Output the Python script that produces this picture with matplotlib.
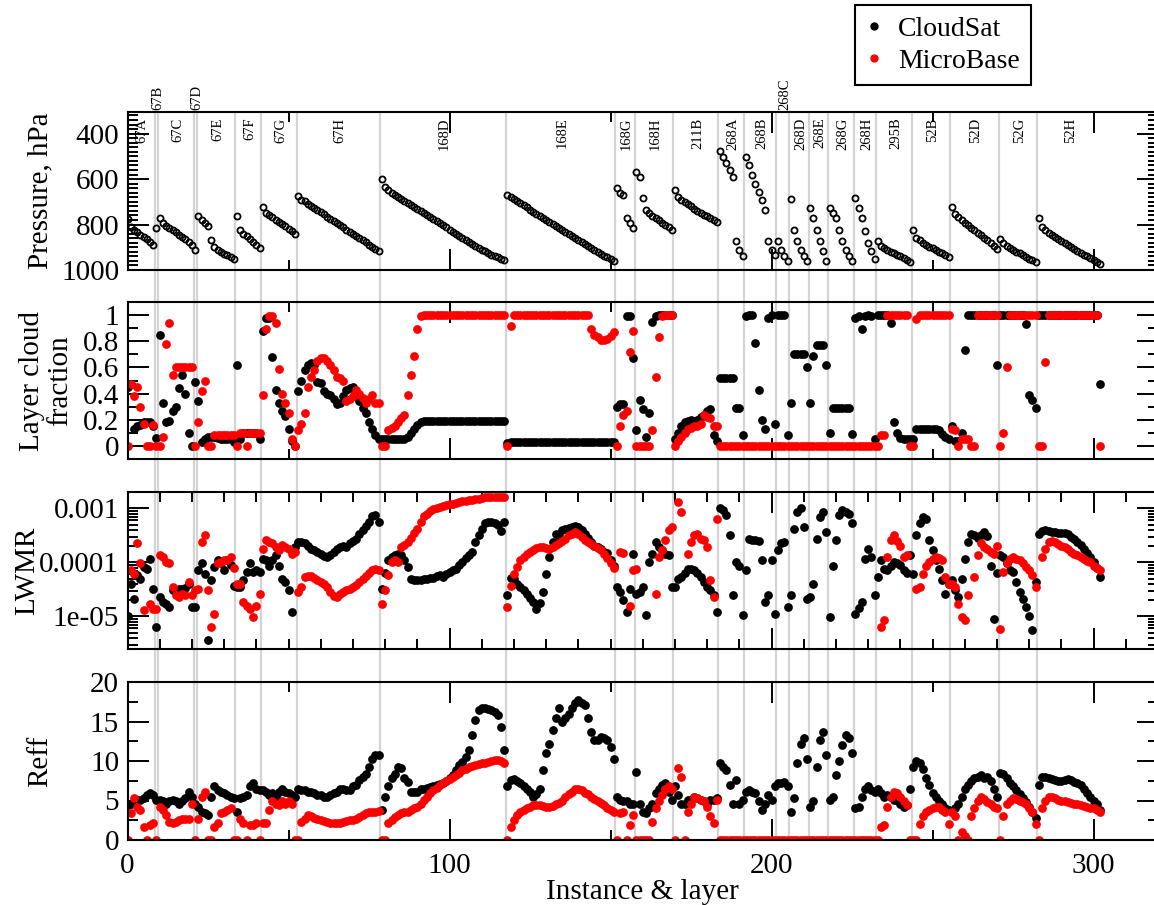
import numpy as np
import matplotlib
matplotlib.use("Agg")
import matplotlib.pyplot as plt
import matplotlib.transforms as mtransforms
from matplotlib.lines import Line2D
from matplotlib.ticker import MultipleLocator, LogLocator, FuncFormatter, NullFormatter

nan = np.nan

# instances (case + layer group) and number of layers in each
seg_names = ["67A", "67B", "67C", "67D", "67E", "67F", "67G", "67H", "168D", "168E",
             "168G", "168H", "211B", "268A", "268B", "268C", "268D", "268E", "268G",
             "268H", "295B", "52B", "52D", "52G", "52H"]
seg_layers = [9, 1, 11, 1, 12, 8, 11, 26, 39, 34, 6, 12, 14, 8, 10, 4, 6, 6, 8, 7,
              11, 12, 15, 12, 20]
labels_above = ["67B", "67D", "268C"]

# layer pressure, hPa
pressure = [
    775, 810, 825, 835, 845, 855, 865, 875, 888,
    815,
    770, 795, 805, 815, 825, 835, 845, 855, 865, 875, 888,
    912,
    764, 778, 792, 808, 870, 900, 912, 920, 928, 935, 943, 952,
    764, 822, 840, 852, 865, 877, 890, 903,
    725, 748, 758, 768, 778, 788, 798, 808, 818, 828, 842,
    674, 690, 698, 708, 717, 727, 736, 746, 755, 765, 774, 784, 793,
    803, 812, 822, 831, 841, 850, 860, 869, 879, 888, 898, 907, 916,
    601, 636, 650, 660, 669, 678, 687, 696, 705, 714, 723, 732, 741,
    750, 759, 768, 777, 786, 795, 804, 813, 822, 831, 840, 849, 858,
    867, 876, 885, 894, 902, 910, 918, 925, 932, 938, 944, 950, 956,
    670, 680, 689, 698, 707, 716, 725, 734, 743, 752, 761, 770, 779, 788, 797, 806, 815,
    824, 833, 842, 851, 860, 869, 878, 887, 896, 905, 913, 921, 929, 937, 944, 952, 960,
    640, 662, 672, 770, 792, 815,
    568, 590, 683, 735, 750, 762, 772, 782, 792, 802, 812, 825,
    648, 680, 690, 700, 710, 720, 730, 740, 748, 756, 764, 772, 780, 790,
    477, 505, 530, 560, 590, 873, 910, 940,
    505, 540, 580, 620, 655, 690, 735, 873, 910, 935,
    873, 910, 940, 960,
    687, 822, 873, 910, 940, 960,
    726, 773, 822, 873, 916, 960,
    726, 750, 773, 822, 873, 910, 940, 960,
    683, 726, 773, 830, 880, 916, 952,
    873, 895, 905, 912, 920, 927, 934, 940, 947, 955, 965,
    825, 858, 870, 880, 890, 898, 905, 912, 920, 927, 935, 943,
    725, 755, 768, 780, 792, 803, 814, 825, 836, 847, 858, 869, 880, 893, 909,
    862, 883, 893, 902, 911, 919, 927, 935, 942, 950, 957, 964,
    771, 810, 825, 836, 846, 856, 865, 874, 883, 892,
    900, 908, 916, 924, 932, 940, 948, 956, 965, 974,
]

# layer cloud fraction
cf_cloudsat = [
    0.45, 0.47, 0.13, 0.15, 0.16, 0.18, 0.18, 0.18, 0.15,
    0.06,
    0.85, 0.33, 0.18, 0.19, 0.27, 0.30, 0.44, 0.54, 0.40, 0.10, 0.00,
    0.49,
    0.34, 0.03, 0.05, 0.07, 0.07, 0.07, 0.06, 0.05, 0.05, 0.05, 0.05, 0.03,
    0.62, 0.05, 0.10, 0.10, 0.10, 0.10, 0.10, 0.05,
    0.88, 0.98, 0.98, 0.68, 0.43, 0.33, 0.27, 0.23, 0.13, 0.04, 0.00,
    0.42, 0.50, 0.58, 0.62, 0.63, 0.62, 0.49, 0.48, 0.42, 0.40, 0.39, 0.36, 0.32,
    0.33, 0.38, 0.43, 0.44, 0.45, 0.40, 0.34, 0.29, 0.25, 0.18, 0.13, 0.08, 0.05,
    0.05, 0.05, 0.05, 0.05, 0.05, 0.05, 0.05, 0.05, 0.07, 0.10, 0.13, 0.16, 0.18,
    0.19, 0.19, 0.19, 0.19, 0.19, 0.19, 0.19, 0.19, 0.19, 0.19, 0.19, 0.19, 0.19,
    0.19, 0.19, 0.19, 0.19, 0.19, 0.19, 0.19, 0.19, 0.19, 0.19, 0.19, 0.19, 0.19,
    0.02, 0.03, 0.03, 0.03, 0.03, 0.03, 0.03, 0.03, 0.03, 0.03, 0.03, 0.03, 0.03, 0.03, 0.03, 0.03, 0.03,
    0.03, 0.03, 0.03, 0.03, 0.03, 0.03, 0.03, 0.03, 0.03, 0.03, 0.03, 0.03, 0.03, 0.03, 0.03, 0.03, 0.03,
    0.30, 0.32, 0.32, 0.99, 0.99, 0.67,
    0.12, 0.35, 0.28, 0.07, 0.25, 0.95, 0.99, 1.00, 1.00, 1.00, 1.00, 1.00,
    0.05, 0.10, 0.15, 0.18, 0.19, 0.20, 0.19, 0.20, 0.22, 0.24, 0.27, 0.28, 0.08, 0.04,
    0.52, 0.52, 0.52, 0.52, 0.52, 0.29, 0.29, 0.08,
    0.99, 1.00, 1.00, 0.79, 0.43, 0.20, 0.13, 0.98, 1.00, 0.17,
    1.00, 1.00, 1.00, 0.08,
    0.33, 0.70, 0.70, 0.70, 0.70, 0.60,
    0.33, 0.69, 0.77, 0.77, 0.77, 0.62,
    0.10, 0.29, 0.29, 0.29, 0.29, 0.29, 0.29, 0.09,
    0.98, 0.99, 0.89, 0.99, 1.00, 0.99, 0.05,
    1.00, 1.00, 1.00, 1.00, 0.94, 0.18, 0.10, 0.06, 0.05, 0.05, 0.05,
    0.05, 0.13, 0.13, 0.13, 0.13, 0.13, 0.13, 0.13, 0.12, 0.09, 0.07, 0.05,
    0.15, 0.04, 0.04, 0.10, 0.73, 1.00, 1.00, 1.00, 1.00, 1.00, 1.00, 1.00, 1.00, 1.00, 0.62,
    1.00, 1.00, 1.00, 1.00, 1.00, 1.00, 1.00, 1.00, 0.93, 0.39, 0.35, 0.29,
    1.00, 1.00, 1.00, 1.00, 1.00, 1.00, 1.00, 1.00, 1.00, 1.00,
    1.00, 1.00, 1.00, 1.00, 1.00, 1.00, 1.00, 1.00, 1.00, 0.47,
]
cf_microbase = [
    0.00, 0.47, 0.38, 0.45, 0.30, 0.17, 0.00, 0.00, 0.16,
    0.00,
    0.00, 0.07, 0.78, 0.94, 0.54, 0.60, 0.60, 0.60, 0.60, 0.60, 0.60,
    0.00,
    0.18, 0.42, 0.50, 0.00, 0.00, 0.08, 0.08, 0.08, 0.08, 0.08, 0.08, 0.08,
    0.00, 0.10, 0.10, 0.00, 0.10, 0.10, 0.10, 0.10,
    0.39, 0.89, 0.99, 0.99, 0.94, 0.59, 0.40, 0.33, 0.25, 0.05, 0.00,
    0.12, 0.17, 0.25, 0.45, 0.53, 0.58, 0.65, 0.67, 0.67, 0.65, 0.62, 0.58, 0.53,
    0.52, 0.50, 0.34, 0.36, 0.38, 0.43, 0.40, 0.37, 0.33, 0.36, 0.39, 0.33, 0.33,
    0.00, 0.00, 0.12, 0.14, 0.15, 0.18, 0.21, 0.24, 0.39, 0.54, 0.69, 0.89, 0.99,
    1.00, 1.00, 1.00, 1.00, 1.00, 1.00, 1.00, 1.00, 1.00, 1.00, 1.00, 1.00, 1.00,
    1.00, 1.00, 1.00, 1.00, 1.00, 1.00, 1.00, 1.00, 1.00, 1.00, 1.00, 1.00, 1.00,
    0.00, 0.92, 1.00, 1.00, 1.00, 1.00, 1.00, 1.00, 1.00, 1.00, 1.00, 1.00, 1.00, 1.00, 1.00, 1.00, 1.00,
    1.00, 1.00, 1.00, 1.00, 1.00, 1.00, 1.00, 1.00, 1.00, 0.89, 0.85, 0.83, 0.81, 0.81, 0.82, 0.84, 0.87,
    0.00, 0.15, 0.24, 0.27, 0.72, 0.88,
    0.00, 0.00, 0.00, 0.00, 0.00, 0.12, 0.53, 0.83, 0.99, 1.00, 1.00, 1.00,
    0.00, 0.04, 0.07, 0.10, 0.13, 0.14, 0.15, 0.15, 0.17, 0.24, 0.22, 0.21, 0.15, 0.15,
    0.00, 0.00, 0.00, 0.00, 0.00, 0.00, 0.00, 0.00,
    0.00, 0.00, 0.00, 0.00, 0.00, 0.00, 0.00, 0.00, 0.00, 0.00,
    0.00, 0.00, 0.00, 0.00,
    0.00, 0.00, 0.00, 0.00, 0.00, 0.00,
    0.00, 0.00, 0.00, 0.00, 0.00, 0.00,
    0.00, 0.00, 0.00, 0.00, 0.00, 0.00, 0.00, 0.00,
    0.00, 0.00, 0.00, 0.00, 0.00, 0.00, 0.00,
    0.00, 0.08, 0.08, 1.00, 1.00, 1.00, 1.00, 1.00, 1.00, 1.00, 0.00,
    0.00, 0.97, 1.00, 1.00, 1.00, 1.00, 1.00, 1.00, 1.00, 1.00, 1.00, 1.00,
    0.13, 0.12, 0.00, 0.05, 0.05, 0.05, 0.00, 0.00, 1.00, 1.00, 1.00, 1.00, 1.00, 1.00, 1.00,
    0.00, 0.10, 0.60, 1.00, 1.00, 1.00, 1.00, 1.00, 1.00, 1.00, 1.00, 1.00,
    0.00, 0.00, 0.64, 1.00, 1.00, 1.00, 1.00, 1.00, 1.00, 1.00,
    1.00, 1.00, 1.00, 1.00, 1.00, 1.00, 1.00, 1.00, 1.00, 0.00,
]

# liquid water mixing ratio, given as log10(LWMR)
log_lwmr_cloudsat = [
    -5.00, -4.40, -4.67, -4.24, -4.30, -4.09, -4.12, -3.93, -4.49,
    -5.20,
    -4.64, -4.73, -4.77, -4.83, -4.52, -4.55, -4.49, -4.49, -4.48, -4.40, -4.83,
    -4.83,
    -4.15, -4.02, -4.21, -5.43, -4.33, -4.09, -3.96, -4.02, -4.15, -3.96, -4.05, -4.43,
    -4.46, -4.46, -4.33, -4.18, -4.02, -4.18, -4.15, -4.18,
    -3.93, -3.96, -4.06, -3.96, -3.87, -4.06, -4.30, -4.36, -4.52, -4.92, -3.72,
    -3.62, -3.62, -3.65, -3.70, -3.75, -3.78, -3.80, -3.84, -3.88, -3.90, -3.86, -3.80, -3.76,
    -3.72, -3.70, -3.72, -3.65, -3.60, -3.56, -3.48, -3.41, -3.32, -3.25, -3.15, -3.13, -3.25,
    -4.49, -4.20, -3.96, -3.90, -3.86, -3.84, -3.86, -3.95, -4.09, -4.30, -4.32, -4.33, -4.32,
    -4.30, -4.30, -4.28, -4.29, -4.26, -4.24, -4.27, -4.22, -4.18, -4.15, -4.12, -4.05, -3.99,
    -3.92, -3.87, -3.80, -3.62, -3.50, -3.38, -3.28, -3.25, -3.25, -3.27, -3.30, -3.42, -3.25,
    -4.61, -4.28, -4.30, -4.40, -4.45, -4.52, -4.58, -4.65, -4.73, -4.86, -4.75, -4.55, -4.21, -3.90, -3.62, -3.47, -3.52,
    -3.41, -3.38, -3.36, -3.35, -3.33, -3.35, -3.40, -3.48, -3.55, -3.62, -3.70, -3.72, -3.75, -3.80, -3.82, -3.96, -4.06,
    -4.46, -4.55, -4.70, -4.92, -4.49, -3.84,
    -4.58, -4.55, -4.46, -4.98, -3.99, -3.84, -3.62, -3.72, -3.78, -3.84, -3.86, -4.46,
    -4.46, -4.30, -4.27, -4.20, -4.12, -4.13, -4.15, -4.20, -4.27, -4.36, -4.46, -4.52, -4.61, -4.92,
    -3.00, -3.04, -3.13, -3.50, -4.61, -3.99, -4.06, -4.98,
    -4.15, -3.56, -3.58, -3.59, -3.60, -3.96, -4.73, -4.61, -3.96, -4.95,
    -3.78, -3.65, -3.62, -4.83,
    -4.61, -3.38, -3.07, -3.00, -3.35, -4.67,
    -4.64, -4.40, -3.56, -3.16, -3.07, -3.44,
    -5.01, -4.06, -3.59, -3.13, -3.04, -3.06, -3.10, -3.28,
    -4.95, -4.85, -4.73, -3.93, -3.75, -3.90, -4.61,
    -4.27, -3.96, -4.12, -4.15, -4.06, -3.99, -4.02, -4.05, -4.15, -4.20, -3.87,
    -4.21, -3.50, -3.28, -3.16, -3.20, -3.59, -3.78, -3.95, -4.12, -4.33, -4.58, -4.40,
    -4.33, -4.52, -4.64, -4.30, -3.93, -3.62, -3.47, -3.50, -3.55, -3.50, -3.44, -3.52, -4.06, -5.04, -4.20,
    -3.87, -3.90, -4.02, -4.15, -4.18, -4.36, -4.55, -4.67, -4.83, -5.00, -5.25, -4.36,
    -3.47, -3.42, -3.41, -3.42, -3.43, -3.44, -3.45, -3.45, -3.46, -3.48,
    -3.53, -3.56, -3.62, -3.68, -3.75, -3.82, -3.90, -4.00, -4.10, -4.27,
]
log_lwmr_microbase = [
    nan, -4.15, -4.21, -3.65, -4.02, -4.89, nan, -4.77, -4.86,
    -4.86,
    -3.87, -3.90, -3.99, -4.02, -4.46, -4.61, -4.64, -4.58, -4.61, -4.36, -4.60,
    -4.52,
    -4.49, -3.62, -3.50, -4.52, -5.20, -4.95, -4.02, -3.99, -3.96, -3.96, -3.90, -4.10,
    -4.40, -4.40, -4.73, -4.80, -4.86, -5.01, -4.80, -4.58,
    -3.75, -3.59, -3.62, -3.65, -3.71, -3.78, -3.68, -3.71, -3.75, -3.84, -3.80,
    -4.55, -4.46, -4.27, -4.25, -4.25, -4.28, -4.33, -4.36, -4.40, -4.46, -4.55, -4.62, -4.64,
    -4.58, -4.55, -4.52, -4.49, -4.46, -4.42, -4.36, -4.30, -4.25, -4.20, -4.15, -4.13, -4.15,
    -4.77, -4.52, -4.24, -3.99, -3.96, -3.99, -3.72, -3.68, -3.62, -3.55, -3.46, -3.38, -3.25,
    -3.15, -3.10, -3.05, -3.02, -3.00, -2.98, -2.96, -2.94, -2.93, -2.92, -2.90, -2.89, -2.87,
    -2.86, -2.85, -2.84, -2.83, -2.82, -2.81, -2.80, -2.80, -2.79, -2.79, -2.79, -2.79, -2.80,
    -4.83, -4.43, -4.21, -4.09, -3.96, -3.90, -3.84, -3.80, -3.78, -3.74, -3.72, -3.72, -3.74, -3.75, -3.72, -3.68, -3.65,
    -3.60, -3.56, -3.50, -3.47, -3.44, -3.48, -3.54, -3.58, -3.62, -3.66, -3.70, -3.74, -3.78, -3.85, -3.92, -4.02, -4.10,
    nan, -3.81, -3.83, nan, -4.80, -4.15,
    -4.12, nan, nan, nan, nan, nan, -4.58, -3.90, -3.78, -3.59, -3.41, -3.35,
    nan, -2.88, -3.07, nan, -3.84, -3.62, -3.50, -3.47, -3.56, -3.59, -3.72, -4.33, -4.64, -3.19,
    nan, nan, nan, nan, nan, nan, nan, nan,
    nan, nan, nan, nan, nan, nan, nan, nan, nan, nan,
    nan, nan, nan, nan,
    nan, nan, nan, nan, nan, nan,
    nan, nan, nan, nan, nan, nan,
    nan, nan, nan, nan, nan, nan, nan, nan,
    nan, nan, nan, nan, nan, nan, nan,
    nan, -5.20, -5.07, -3.90, -3.59, -3.50, -3.60, -3.69, -3.90, -3.87, nan,
    nan, -4.50, -4.46, -4.21, -4.06, -3.99, -3.93, -3.90, -3.92, -3.96, -4.27, -4.40,
    -4.40, -4.46, -4.77, -5.01, -5.07, -4.61, nan, -4.27, -3.87, -3.65, -3.72, -3.75, -3.81, -3.85, -3.70,
    -5.23, -4.18, -4.02, -3.93, -3.90, -3.93, -3.96, -4.02, -4.09, -4.15, -4.24, -4.46,
    nan, -3.90, -3.75, -3.62, -3.60, -3.62, -3.66, -3.70, -3.72, -3.76,
    -3.80, -3.84, -3.87, -3.90, -3.94, -3.97, -4.00, -4.06, -4.10, -4.15,
]

# effective radius
reff_cloudsat = [
    4.4, 4.6, 4.8, 5.1, 5.1, 5.3, 5.7, 5.9, 5.7,
    5.1,
    5.1, 4.9, 4.6, 4.9, 5.1, 4.9, 4.6, 4.9, 5.3, 6.1, 5.5,
    4.6,
    4.2, 3.6, 3.4, 3.2, 5.5, 6.8, 6.3, 6.1, 5.9, 5.7, 5.5, 5.3,
    3.6, 5.3, 5.5, 5.7, 6.8, 7.2, 6.5, 6.3,
    6.3, 6.1, 5.7, 5.9, 5.5, 6.1, 6.5, 6.1, 5.9, 5.7, 5.5,
    6.5, 6.3, 6.3, 6.1, 6.1, 5.9, 5.7, 5.7, 5.5, 5.5, 5.7, 5.9, 6.1,
    6.5, 6.5, 6.3, 6.3, 6.8, 7.0, 7.6, 8.0, 8.4, 9.3, 10.3, 10.8, 10.8,
    3.8, 5.5, 6.8, 7.8, 8.4, 9.3, 9.1, 7.8, 7.4, 6.1, 6.1, 6.1, 6.5,
    6.5, 6.6, 6.7, 6.8, 7.0, 7.1, 7.2, 7.5, 7.8, 8.2, 8.8, 9.5, 9.9,
    10.5, 11.4, 13.3, 15.2, 16.4, 16.7, 16.7, 16.6, 16.5, 16.2, 15.8, 14.3, 11.4,
    6.8, 7.6, 7.7, 7.5, 7.2, 6.8, 6.5, 6.1, 5.5, 5.8, 6.5, 8.9, 11.0, 12.2, 13.9, 15.4, 16.7,
    15.0, 15.5, 16.0, 16.7, 17.3, 17.7, 17.4, 17.1, 15.4, 13.7, 12.7, 12.7, 13.1, 12.9, 12.7, 11.8, 10.3,
    5.5, 5.1, 4.9, 4.9, 4.6, 4.6,
    8.6, 4.6, 3.6, 3.4, 4.0, 4.6, 5.9, 6.5, 7.0, 7.2, 6.1, 5.1,
    6.8, 5.7, 4.6, 4.6, 5.1, 5.1, 5.5, 5.3, 5.1, 4.9, 4.6, 5.1, 5.1, 5.3,
    9.7, 9.3, 8.9, 7.0, 4.6, 7.6, 4.6, 5.1,
    6.1, 6.3, 6.1, 5.9, 4.9, 3.8, 4.6, 5.7, 5.1, 6.8,
    7.2, 7.2, 7.4, 6.8,
    3.6, 5.3, 9.7, 12.2, 12.9, 10.3,
    4.2, 4.9, 9.3, 12.7, 13.7, 10.8,
    5.1, 5.5, 8.2, 10.0, 12.0, 13.3, 12.9, 11.0,
    4.0, 4.2, 5.5, 6.5, 6.8, 6.3, 6.1,
    6.5, 5.9, 5.5, 5.7, 5.5, 5.1, 5.1, 4.6, 4.2, 4.4, 6.5,
    9.3, 10.0, 9.8, 9.0, 7.8, 7.0, 6.0, 5.5, 5.0, 4.5, 4.0, 3.8,
    3.5, 4.0, 4.5, 5.5, 6.5, 7.0, 7.5, 7.8, 8.0, 8.2, 7.8, 8.0, 7.5, 6.5, 5.5,
    8.5, 8.3, 7.8, 7.2, 6.8, 6.3, 5.8, 5.3, 4.8, 4.2, 3.6, 2.8,
    7.0, 8.0, 8.0, 7.8, 7.7, 7.6, 7.5, 7.5, 7.6, 7.7,
    7.6, 7.4, 7.2, 6.9, 6.5, 6.0, 5.5, 5.0, 4.5, 3.8,
]
reff_microbase = [
    0.0, 3.4, 5.3, 4.2, 3.8, 1.7, 0.0, 1.9, 2.1,
    0.0,
    4.2, 3.8, 3.2, 2.3, 2.1, 2.3, 2.5, 2.7, 2.7, 2.7, 4.6,
    0.0,
    2.7, 5.5, 6.1, 0.0, 0.0, 1.7, 2.1, 3.4, 3.6, 3.8, 4.0, 0.0,
    0.0, 2.7, 2.1, 0.0, 1.9, 1.9, 2.1, 0.0,
    2.1, 2.1, 3.8, 4.9, 4.6, 4.4, 4.9, 4.6, 4.9, 4.6, 0.0,
    0.0, 2.3, 2.7, 3.2, 3.0, 2.8, 2.7, 2.5, 2.4, 2.3, 2.2, 2.1, 2.1,
    2.2, 2.3, 2.4, 2.5, 2.5, 2.7, 2.9, 3.2, 3.4, 3.5, 3.6, 3.6, 3.7,
    0.0, 0.0, 2.1, 2.5, 2.9, 3.2, 3.4, 3.5, 3.6, 3.8, 4.0, 4.2, 4.6,
    5.1, 5.5, 5.9, 6.3, 6.6, 7.0, 7.2, 7.5, 7.7, 8.0, 8.2, 8.5, 8.8,
    9.0, 9.3, 9.4, 9.5, 9.6, 9.7, 9.8, 9.9, 10.0, 10.1, 10.1, 10.0, 9.8,
    0.0, 1.7, 2.5, 3.2, 3.5, 3.8, 4.0, 4.2, 4.4, 4.4, 4.4, 4.3, 4.2, 4.2, 4.3, 4.5, 4.7,
    5.0, 5.4, 5.8, 6.1, 6.4, 6.5, 6.3, 6.0, 5.8, 5.5, 5.2, 5.0, 4.7, 4.4, 4.1, 3.8, 3.6,
    0.0, 3.4, 3.6, 0.0, 1.9, 3.2,
    0.0, 0.0, 0.0, 0.0, 0.0, 2.3, 4.0, 4.9, 5.7, 6.5, 6.8, 6.5,
    0.0, 9.1, 8.0, 0.0, 3.6, 4.6, 5.5, 5.3, 5.1, 4.9, 4.2, 3.0, 2.1, 5.1,
    0.0, 0.0, 0.0, 0.0, 0.0, 0.0, 0.0, 0.0,
    0.0, 0.0, 0.0, 0.0, 0.0, 0.0, 0.0, 0.0, 0.0, 0.0,
    0.0, 0.0, 0.0, 0.0,
    0.0, 0.0, 0.0, 0.0, 0.0, 0.0,
    0.0, 0.0, 0.0, 0.0, 0.0, 0.0,
    0.0, 0.0, 0.0, 0.0, 0.0, 0.0, 0.0, 0.0,
    0.0, 0.0, 0.0, 0.0, 0.0, 0.0, 0.0,
    0.0, 1.7, 1.9, 4.2, 5.5, 6.1, 5.9, 5.5, 4.9, 4.4, 0.0,
    0.0, 0.0, 2.0, 3.0, 3.5, 3.8, 4.0, 4.2, 4.2, 3.8, 3.5, 2.0,
    3.5, 3.0, 0.0, 1.0, 0.5, 0.0, 3.0, 4.0, 5.0, 5.5, 5.2, 4.8, 4.5, 4.2, 4.0,
    0.0, 3.0, 4.5, 5.0, 5.3, 5.2, 5.0, 4.8, 4.5, 4.0, 3.5, 2.0,
    0.0, 4.0, 5.0, 5.5, 5.5, 5.3, 5.1, 5.0, 4.9, 4.8,
    4.7, 4.6, 4.5, 4.4, 4.3, 4.2, 4.1, 4.0, 3.8, 3.5,
]

n_total = sum(seg_layers)
for name, s in [("pressure", pressure), ("cf_cloudsat", cf_cloudsat),
                ("cf_microbase", cf_microbase), ("log_lwmr_cloudsat", log_lwmr_cloudsat),
                ("log_lwmr_microbase", log_lwmr_microbase), ("reff_cloudsat", reff_cloudsat),
                ("reff_microbase", reff_microbase)]:
    assert len(s) == n_total, (name, len(s), n_total)

x = np.arange(n_total)
starts = np.concatenate([[0], np.cumsum(seg_layers)[:-1]])
boundaries = starts[1:] - 0.5

plt.rcParams['font.family'] = ['Liberation Serif', 'DejaVu Serif']

W, H = 1154, 905
fig = plt.figure(figsize=(W / 100, H / 100), dpi=100)
left_px, right_px = 127.5, 1158
panel_px = [(112, 270), (302, 459), (492, 649), (682, 840)]


def rect(top, bot):
    return [left_px / W, 1 - bot / H, (right_px - left_px) / W, (bot - top) / H]


# light grey separators between instances, running through all panels
ax_bg = fig.add_axes(rect(panel_px[0][0], panel_px[-1][1]), zorder=0)
ax_bg.set_xlim(0, 320)
ax_bg.set_ylim(0, 1)
ax_bg.axis('off')
ax_bg.vlines(boundaries, 0, 1, color='#d4d4d4', lw=1.6)

axes = []
for top, bot in panel_px:
    ax = fig.add_axes(rect(top, bot), zorder=1)
    ax.patch.set_alpha(0)
    axes.append(ax)
ax1, ax2, ax3, ax4 = axes

ms = 6.3
ax1.plot(x, pressure, 'o', ls='none', mfc='none', mec='black', ms=4.4, mew=1.3)
ax2.plot(x, cf_cloudsat, 'o', ls='none', color='black', ms=ms, mew=0)
ax2.plot(x, cf_microbase, 'o', ls='none', color='red', ms=ms, mew=0)
ax3.plot(x, 10 ** np.array(log_lwmr_cloudsat), 'o', ls='none', color='black', ms=ms, mew=0)
ax3.plot(x, 10 ** np.array(log_lwmr_microbase), 'o', ls='none', color='red', ms=ms, mew=0)
ax4.plot(x, reff_cloudsat, 'o', ls='none', color='black', ms=ms, mew=0)
ax4.plot(x, reff_microbase, 'o', ls='none', color='red', ms=ms, mew=0)

for ax in axes:
    ax.set_xlim(0, 320)
    ax.xaxis.set_major_locator(MultipleLocator(100))
    ax.xaxis.set_minor_locator(MultipleLocator(50))
    ax.tick_params(which='both', direction='in', top=True, right=True, width=1.4,
                   labelsize=21, pad=6)
    ax.tick_params(which='major', length=15)
    ax.tick_params(which='minor', length=7.5)
    ax.tick_params(axis='x', labelbottom=False)
    for sp in ax.spines.values():
        sp.set_linewidth(1.5)

ax3.xaxis.set_minor_locator(MultipleLocator(10))
ax4.tick_params(axis='x', labelbottom=True, pad=9)

gfmt = FuncFormatter(lambda v, p: '%g' % v)

ax1.set_ylim(1000, 305)
ax1.yaxis.set_major_locator(MultipleLocator(200))
ax1.yaxis.set_minor_locator(MultipleLocator(20))
ax1.yaxis.set_major_formatter(gfmt)
ax1.set_ylabel('Pressure, hPa', fontsize=21)
ax1.yaxis.set_label_coords(-0.072, 0.5)

ax2.set_ylim(-0.1, 1.1)
ax2.yaxis.set_major_locator(MultipleLocator(0.2))
ax2.yaxis.set_minor_locator(MultipleLocator(0.1))
ax2.yaxis.set_major_formatter(gfmt)
ax2.set_ylabel('Layer cloud\nfraction', fontsize=21, linespacing=1.1)
ax2.yaxis.set_label_coords(-0.053, 0.5)

ax3.set_yscale('log')
ax3.set_ylim(2.5e-6, 2e-3)
ax3.yaxis.set_major_locator(LogLocator(base=10, numticks=10))
ax3.yaxis.set_minor_locator(LogLocator(base=10, subs=np.arange(2, 10), numticks=10))
ax3.yaxis.set_major_formatter(gfmt)
ax3.yaxis.set_minor_formatter(NullFormatter())
ax3.set_ylabel('LWMR', fontsize=21)
ax3.yaxis.set_label_coords(-0.085, 0.5)

ax4.set_ylim(0, 20)
ax4.yaxis.set_major_locator(MultipleLocator(5))
ax4.yaxis.set_minor_locator(MultipleLocator(2.5))
ax4.yaxis.set_major_formatter(gfmt)
ax4.xaxis.set_major_formatter(gfmt)
ax4.set_ylabel('Reff', fontsize=21)
ax4.yaxis.set_label_coords(-0.072, 0.5)
ax4.set_xlabel('Instance & layer', fontsize=21, labelpad=0)

# instance names along the top of the pressure panel
trans = mtransforms.blended_transform_factory(ax1.transData, ax1.transAxes)
for name, s0, n in zip(seg_names, starts, seg_layers):
    xc = s0 + (n - 1) / 2 + 0.5
    if name in labels_above:
        ax1.text(xc, 1.015, name, transform=trans, rotation=90, ha='center',
                 va='bottom', fontsize=10.5, clip_on=False)
    else:
        ax1.text(xc, 0.965, name, transform=trans, rotation=90, ha='center',
                 va='top', fontsize=10.5)

handles = [Line2D([], [], marker='o', ls='none', color='black', ms=5),
           Line2D([], [], marker='o', ls='none', color='red', ms=5)]
leg = fig.legend(handles, ['CloudSat', 'MicroBase'], loc='upper left',
                 bbox_to_anchor=(855 / W, 1 - 5 / H), fontsize=20, frameon=True,
                 fancybox=False, edgecolor='black', framealpha=1, borderpad=0.4,
                 handlelength=0.6, handletextpad=0.55, labelspacing=0.25,
                 borderaxespad=0)
leg.get_frame().set_linewidth(1.5)

fig.savefig('out.png', dpi=100)
